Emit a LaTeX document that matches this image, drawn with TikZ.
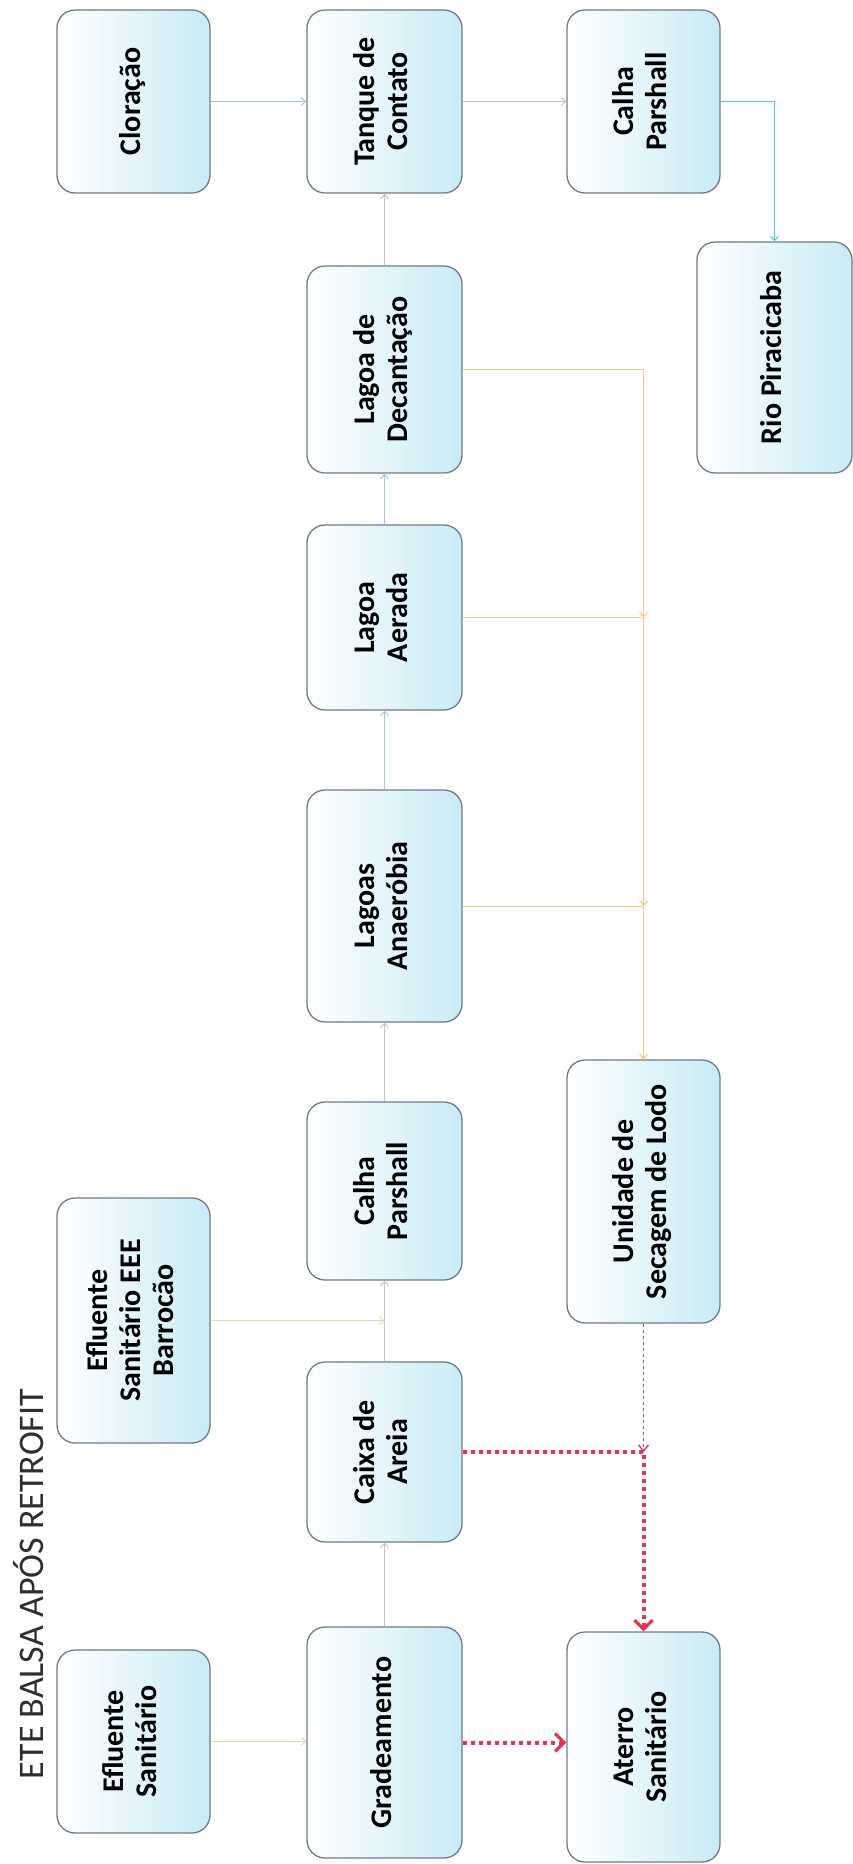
\documentclass[tikz,border=0pt]{standalone}
\usepackage{fontspec}
\setmainfont{Carlito}
\usetikzlibrary{arrows.meta}

\definecolor{boxedge}{RGB}{112,122,134}
\definecolor{boxcyan}{RGB}{200,235,246}
\definecolor{titlegray}{RGB}{45,45,50}
\definecolor{flowgray}{RGB}{200,194,184}
\definecolor{flowbeige}{RGB}{232,214,178}
\definecolor{flowblue}{RGB}{160,200,222}
\definecolor{rivercyan}{RGB}{80,196,216}
\definecolor{sludge}{RGB}{242,196,128}
\definecolor{waste}{RGB}{226,52,80}
\definecolor{wastethin}{RGB}{190,64,130}

\tikzset{
  box/.style={draw=boxedge, line width=1.3pt, rounded corners=18pt,
    left color=white, middle color=white!78!boxcyan, right color=boxcyan,
    inner sep=0pt, text=black, align=center,
    font=\bfseries\fontsize{30}{33}\selectfont},
  colA/.style={box, minimum width=153pt},
  colB/.style={box, minimum width=155pt},
  colC/.style={box, minimum width=153pt},
  colD/.style={box, minimum width=155pt},
  flow/.style={line width=1pt, -{Straight Barb[length=4.5pt,width=8pt]}},
  sludgeline/.style={flow, draw=sludge},
  wastebig/.style={draw=waste, line width=4pt, dash pattern=on 4pt off 4pt,
    -{Straight Barb[length=9pt,width=18pt,line width=3.2pt]}},
  wastesmall/.style={draw=wastethin, line width=1.6pt, dash pattern=on 3.5pt off 2.5pt,
    -{Straight Barb[length=6pt,width=10pt,line width=1.4pt]}}
}

\newcommand{\vtext}[1]{\rotatebox{90}{\begin{tabular}{@{}c@{}}#1\end{tabular}}}

\begin{document}
\begin{tikzpicture}[x=1pt,y=-1pt]
\useasboundingbox (0,0) rectangle (853,1864);

% title, reading upwards
\node[rotate=90, anchor=base, inner sep=0pt, text=titlegray,
      font=\fontsize{36}{40}\selectfont] (title) at (43,1584) {ETE BALSA APÓS RETROFIT};

% top row
\node[colA, minimum height=183pt] (clor)   at (133.5,101.5) {\vtext{Cloração}};
\node[colB, minimum height=183pt] (tanque) at (384.5,101.5) {\vtext{Tanque de\\Contato}};
\node[colC, minimum height=183pt] (calha2) at (643.5,101.5) {\vtext{Calha\\Parshall}};
\node[colD, minimum height=231pt] (rio)    at (774.5,357.5) {\vtext{Rio Piracicaba}};

% main treatment line
\node[colB, minimum height=207pt] (decant) at (384.5,369.5) {\vtext{Lagoa de\\Decantação}};
\node[colB, minimum height=185pt] (aerada) at (384.5,617.5) {\vtext{Lagoa\\Aerada}};
\node[colB, minimum height=232pt] (anaer)  at (384.5,906)   {\vtext{Lagoas\\Anaeróbia}};
\node[colB, minimum height=178pt] (calha1) at (384.5,1191)  {\vtext{Calha\\Parshall}};
\node[colB, minimum height=180pt] (caixa)  at (384.5,1452)  {\vtext{Caixa de\\Areia}};
\node[colB, minimum height=231pt] (grad)   at (384.5,1742.5){\vtext{Gradeamento}};

% inflows
\node[colA, minimum height=245pt] (eee)    at (133.5,1320.5){\vtext{Efluente\\Sanitário EEE\\Barrocão}};
\node[colA, minimum height=183pt] (eflu)   at (133.5,1741.5){\vtext{Efluente\\Sanitário}};

% sludge and solids
\node[colC, minimum height=263pt] (unid)   at (643.5,1191.5){\vtext{Unidade de\\Secagem de Lodo}};
\node[colC, minimum height=230pt] (aterro) at (643.5,1747)  {\vtext{Aterro\\Sanitário}};

% liquid flow
\draw[flow, draw=flowbeige] (eflu.east) -- (eflu.east -| grad.west);
\draw[flow, draw=flowgray]  (grad.north) -- (caixa.south);
\draw[flow, draw=flowgray]  (caixa.north) -- (calha1.south);
\draw[flow, draw=flowbeige] (eee.east) -- (eee.east -| caixa.north);
\draw[flow, draw=flowgray]  (calha1.north) -- (anaer.south);
\draw[flow, draw=flowblue]  (anaer.north) -- (aerada.south);
\draw[flow, draw=flowblue]  (aerada.north) -- (decant.south);
\draw[flow, draw=flowgray]  (decant.north) -- (tanque.south);
\draw[flow, draw=flowblue]  (clor.east) -- (tanque.west);
\draw[flow, draw=flowgray]  (tanque.east) -- (calha2.west);
\draw[flow, draw=rivercyan] (calha2.east) -| (rio.north);

% sludge collection
\coordinate (sA) at (aerada.east -| unid.north);
\coordinate (sB) at (anaer.east -| unid.north);
\draw[sludgeline] (decant.east) -| (sA);
\draw[sludgeline] (aerada.east) -| (sB);
\draw[sludgeline] (anaer.east) -| (unid.north);

% solids to landfill
\coordinate (wj) at (caixa.east -| unid.south);
\draw[wastesmall] (unid.south) -- (wj);
\draw[wastebig] (caixa.east) -| (aterro.north);
\draw[wastebig] (grad.east) -- (grad.east -| aterro.west);
\end{tikzpicture}
\end{document}
